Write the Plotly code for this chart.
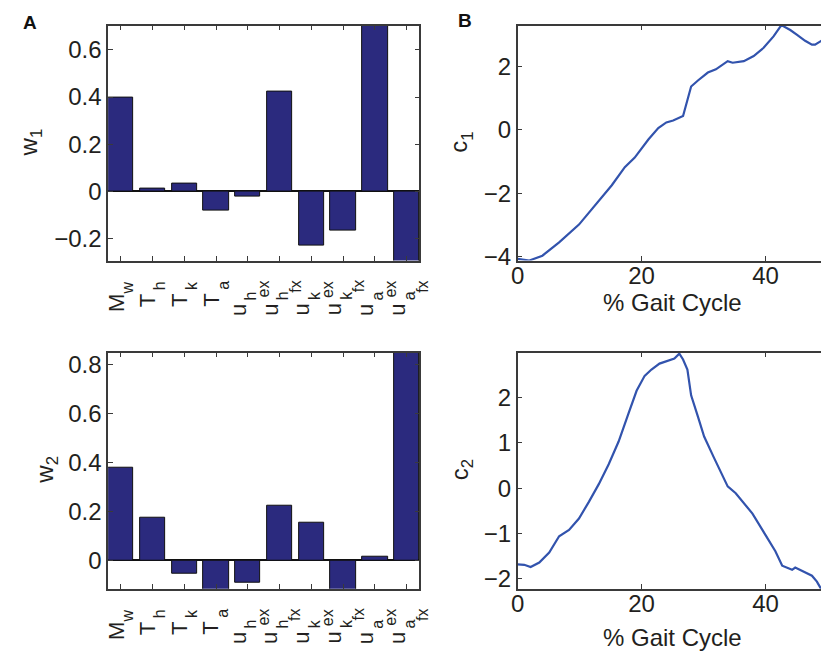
import plotly.graph_objects as go

# ---------------- data ----------------
categories = [1, 2, 3, 4, 5, 6, 7, 8, 9, 10]
label_main = ["M", "T", "T", "T", "u", "u", "u", "u", "u", "u"]
label_sub = ["w", "h", "k", "a", "h", "h", "k", "k", "a", "a"]
label_subsub = ["", "", "", "", "ex", "fx", "ex", "fx", "ex", "fx"]

w1 = [0.396, 0.014, 0.032, -0.079, -0.022, 0.422, -0.228, -0.164, 0.75, -0.35]
w2 = [0.378, 0.175, -0.053, -0.16, -0.090, 0.222, 0.155, -0.14, 0.015, 0.90]

gait_c1 = [0, 1.9, 4, 6.7, 9.9, 12.5, 15.2, 17.3, 18.9, 21.1, 22.7, 24, 25.1, 26.7,
           28, 29.1, 30.7, 32, 32.8, 33.9, 34.7, 36.5, 38.1, 39.7, 41.3, 42.4, 42.7,
           44, 45.1, 46.4, 47.5, 48, 49, 49.5]
c1 = [-4.07, -4.12, -3.97, -3.55, -2.99, -2.37, -1.75, -1.18, -0.88, -0.31, 0.05, 0.23,
      0.29, 0.43, 1.36, 1.55, 1.80, 1.90, 2.00, 2.16, 2.11, 2.16, 2.32, 2.58, 2.94, 3.25,
      3.28, 3.14, 2.99, 2.80, 2.68, 2.68, 2.80, 2.86]

gait_c2 = [0, 1.07, 2.1, 3.5, 5.1, 6.7, 8.3, 9.9, 11.5, 13.1, 14.7, 16.3, 17.9, 19.2,
           20.5, 21.6, 22.9, 24.3, 25.3, 26.1, 26.7, 27.4, 28, 29.1, 30.1, 31.7, 32.8,
           33.9, 35.2, 36.8, 37.9, 39.5, 40.5, 41.6, 42.7, 43.2, 44.3, 44.8, 46.1, 47.5,
           48.3, 49, 49.5]
c2 = [-1.68, -1.69, -1.74, -1.64, -1.42, -1.06, -0.92, -0.67, -0.30, 0.09, 0.53, 1.03,
      1.65, 2.15, 2.48, 2.62, 2.75, 2.81, 2.86, 2.97, 2.84, 2.62, 2.05, 1.58, 1.14, 0.67,
      0.35, 0.04, -0.11, -0.38, -0.56, -0.92, -1.14, -1.39, -1.71, -1.74, -1.80, -1.75,
      -1.84, -1.93, -2.06, -2.22, -2.35]

# ---------------- style ----------------
W, H = 821, 657
FONT = "Liberation Sans, Arial, Helvetica, sans-serif"
TXT = "#231f20"
AX = "#3a3a3a"
BAR = "#2b2a7e"
LINE = "#3253ad"


def px_x(p):
    return p / W


def px_y(p):
    return 1 - p / H


left_dom = [px_x(102), px_x(416)]
right_dom = [px_x(515), 1.0]
top_dom = [px_y(263), px_y(24)]
bot_dom = [px_y(596.7), px_y(356.7)]

fig = go.Figure()

bar_marker = dict(color=BAR, line=dict(color="#111", width=1))
fig.add_trace(go.Bar(x=categories, y=w1, width=0.8, marker=bar_marker,
                     xaxis="x", yaxis="y", showlegend=False))
fig.add_trace(go.Scatter(x=gait_c1, y=c1, mode="lines", line=dict(color=LINE, width=2.2),
                         xaxis="x2", yaxis="y2", showlegend=False))
fig.add_trace(go.Bar(x=categories, y=w2, width=0.8, marker=bar_marker,
                     xaxis="x3", yaxis="y3", showlegend=False))
fig.add_trace(go.Scatter(x=gait_c2, y=c2, mode="lines", line=dict(color=LINE, width=2.2),
                         xaxis="x4", yaxis="y4", showlegend=False))

tickfont = dict(family=FONT, size=24, color=TXT)
common = dict(showline=True, linecolor=AX, linewidth=1.5, ticks="inside", ticklen=5,
              tickcolor=AX, tickwidth=1, showgrid=False, tickfont=tickfont)

bar_x = dict(common, range=[0.6, 10.4], tickmode="array", tickvals=categories,
             showticklabels=False, mirror="ticks", zeroline=False, layer="above traces")
line_x = dict(common, range=[0, 48.96], tickvals=[0, 20, 40], mirror="ticks", zeroline=False,
              ticklabelstandoff=-7)

fig.update_layout(
    width=W, height=H, margin=dict(l=0, r=0, t=0, b=0),
    paper_bgcolor="white", plot_bgcolor="white", bargap=0,
    font=dict(family=FONT, color=TXT),
    xaxis=dict(bar_x, domain=left_dom, anchor="y"),
    yaxis=dict(common, domain=top_dom, anchor="x", range=[-0.293, 0.703],
               tickvals=[-0.2, 0, 0.2, 0.4, 0.6], ticktext=["\u22120.2", "0", "0.2", "0.4", "0.6"],
               mirror="ticks", zeroline=True, zerolinecolor="#111", zerolinewidth=2.2,
               layer="above traces"),
    xaxis2=dict(line_x, domain=right_dom, anchor="y2"),
    yaxis2=dict(common, domain=top_dom, anchor="x2", range=[-4.124, 3.28],
                tickvals=[-4, -2, 0, 2], ticktext=["\u22124", "\u22122", "0", "2"],
                mirror=False, zeroline=False),
    xaxis3=dict(bar_x, domain=left_dom, anchor="y3"),
    yaxis3=dict(common, domain=bot_dom, anchor="x3", range=[-0.116, 0.8465],
                tickvals=[0, 0.2, 0.4, 0.6, 0.8], ticktext=["0", "0.2", "0.4", "0.6", "0.8"],
                mirror="ticks", zeroline=True, zerolinecolor="#111", zerolinewidth=2.2,
                layer="above traces"),
    xaxis4=dict(line_x, domain=right_dom, anchor="y4"),
    yaxis4=dict(common, domain=bot_dom, anchor="x4", range=[-2.217, 2.99],
                tickvals=[-2, -1, 0, 1, 2], ticktext=["\u22122", "\u22121", "0", "1", "2"],
                mirror=False, zeroline=False),
)

title_font = dict(family=FONT, size=24, color=TXT)
annots = [
    dict(text="<b>A</b>", x=px_x(23), y=px_y(21), font=dict(family=FONT, size=19, color="#111")),
    dict(text="<b>B</b>", x=px_x(462), y=px_y(19), font=dict(family=FONT, size=19, color="#111")),
    dict(text="w<sub>1</sub>", x=px_x(24), y=px_y(143), textangle=-90, font=title_font),
    dict(text="w<sub>2</sub>", x=px_x(39), y=px_y(476), textangle=-90, font=title_font),
    dict(text="c<sub>1</sub>", x=px_x(458), y=px_y(143), textangle=-90, font=title_font),
    dict(text="c<sub>2</sub>", x=px_x(458), y=px_y(476), textangle=-90, font=title_font),
    dict(text="% Gait Cycle", x=px_x(671), y=px_y(306), font=title_font),
    dict(text="% Gait Cycle", x=px_x(671), y=px_y(646), font=title_font),
]
for a in annots:
    a.update(xref="paper", yref="paper", showarrow=False, xanchor="center", yanchor="middle")
    fig.add_annotation(**a)

# rotated category labels, built part by part (main letter, subscript, second subscript)
MAIN_FS, SUB_FS = 22, 16
for xref, dom in (("x", top_dom), ("x3", bot_dom)):
    for cat, m, s, ss in zip(categories, label_main, label_sub, label_subsub):
        if ss:
            parts = [(m, MAIN_FS, -9.5, 42), (s, SUB_FS, 3, 29.5), (ss, SUB_FS, 15.5, 19)]
        else:
            parts = [(m, MAIN_FS, -5, 32.5), (s, SUB_FS, 7, 19.5)]
        for txt, fs, dx, dy in parts:
            fig.add_annotation(text=txt, x=cat, xref=xref, y=dom[0], yref="paper",
                               xshift=dx, yshift=-dy, textangle=-90, showarrow=False,
                               xanchor="center", yanchor="top", borderpad=0,
                               font=dict(family=FONT, size=fs, color=TXT))

fig.write_html("out.html")
